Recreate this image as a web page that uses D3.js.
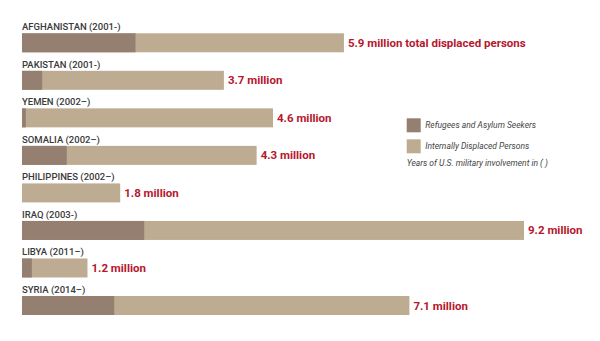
<!DOCTYPE html>
<html>
<head>
<meta charset="utf-8">
<script src="https://cdn.jsdelivr.net/npm/d3@7"></script>
<style>
  html, body { margin: 0; padding: 0; background: #fff; }
  svg { display: block; font-family: Roboto, "Noto Sans", sans-serif; }
</style>
</head>
<body>
<svg id="chart" width="600" height="341"></svg>
<script>
const countries = ["AFGHANISTAN (2001-)", "PAKISTAN (2001-)", "YEMEN (2002\u2013)", "SOMALIA (2002\u2013)",
  "PHILIPPINES (2002\u2013)", "IRAQ (2003-)", "LIBYA (2011\u2013)", "SYRIA (2014\u2013)"];
const totals = [5.9, 3.7, 4.6, 4.3, 1.8, 9.2, 1.2, 7.1];
const refugees = [2.08, 0.37, 0.07, 0.82, 0.0, 2.24, 0.18, 1.69];
const valueLabels = ["5.9 million total displaced persons", "3.7 million", "4.6 million", "4.3 million",
  "1.8 million", "9.2 million", "1.2 million", "7.1 million"];
const legendLabels = ["Refugees and Asylum Seekers", "Internally Displaced Persons"];
const noteText = "Years of U.S. military involvement in ( )";

const colRef = "#957f70", colIdp = "#bdac92", colRed = "#b5172e", colText = "#3a3a3a";

const svg = d3.select("#chart");
const x = d3.scaleLinear().domain([0, 9.2]).range([22, 524]);
const y = d3.scaleBand().domain(countries).range([33.3, 315]).paddingInner(0.494).paddingOuter(0);

const rows = countries.map((c, i) => ({ c, total: totals[i], ref: refugees[i], label: valueLabels[i] }));

const g = svg.append("g");
// IDP (total) bars
g.selectAll("rect.total").data(rows).join("rect")
  .attr("class", "total")
  .attr("x", x(0)).attr("y", d => y(d.c))
  .attr("width", d => x(d.total) - x(0)).attr("height", y.bandwidth())
  .attr("fill", colIdp);
// Refugee bars
g.selectAll("rect.ref").data(rows).join("rect")
  .attr("class", "ref")
  .attr("x", x(0)).attr("y", d => y(d.c))
  .attr("width", d => x(d.ref) - x(0)).attr("height", y.bandwidth())
  .attr("fill", colRef);
// Country labels
g.selectAll("text.cname").data(rows).join("text")
  .attr("class", "cname")
  .attr("x", x(0)).attr("y", d => y(d.c) - 3)
  .attr("fill", colText).attr("font-size", 9.5).attr("font-weight", 500)
  .text(d => d.c);
// Value labels
g.selectAll("text.val").data(rows).join("text")
  .attr("class", "val")
  .attr("x", d => x(d.total) + 4).attr("y", d => y(d.c) + y.bandwidth() / 2)
  .attr("dy", "0.35em")
  .attr("fill", colRed).attr("font-size", 11.5).attr("font-weight", 700)
  .text(d => d.label);

// Legend
const lg = svg.append("g").attr("transform", "translate(406.7,118.3)");
[colRef, colIdp].forEach((c, i) => {
  lg.append("rect").attr("x", 0).attr("y", i * 21).attr("width", 14).attr("height", 14).attr("fill", c);
  lg.append("text").attr("x", 18.5).attr("y", i * 21 + 7).attr("dy", "0.35em")
    .attr("font-size", 8.5).attr("font-style", "italic").attr("fill", "#444")
    .text(legendLabels[i]);
});
lg.append("text").attr("x", 0).attr("y", 45).attr("dy", "0.35em")
  .attr("font-size", 8.5).attr("font-style", "italic").attr("fill", "#444")
  .text(noteText);
</script>
</body>
</html>
